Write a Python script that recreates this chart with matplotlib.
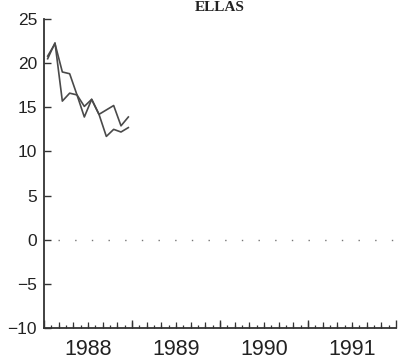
import matplotlib
matplotlib.use("Agg")
import matplotlib.pyplot as plt
import numpy as np

# data
title = "ELLAS"
months = np.arange(12)
x_dates = 1988 + (months + 0.5) / 12.0
series_a = [20.5, 22.3, 15.7, 16.6, 16.4, 13.9, 15.9, 14.2, 11.7, 12.5, 12.2, 12.7]
series_b = [20.8, 22.2, 19.0, 18.8, 16.4, 15.1, 15.9, 14.2, 14.7, 15.2, 12.9, 13.9]
year_ticks = [1988, 1989, 1990, 1991, 1992]
year_labels = ["1988", "1989", "1990", "1991"]
y_ticks = [-10, -5, 0, 5, 10, 15, 20, 25]

plt.rcParams['font.family'] = ['Liberation Sans', 'DejaVu Sans']

fig = plt.figure(figsize=(3.98, 3.6), dpi=100)
ax = fig.add_axes([44/398, 32/360, 352/398, 309/360])

col = "#4a4a4a"
ax.plot(x_dates, series_a, color=col, lw=1.2)
ax.plot(x_dates, series_b, color=col, lw=1.2)
ax.axhline(0, xmin=0.04, color="#777777", lw=1.0, linestyle=(0, (1, 11)))

ax.set_xlim(1988, 1992)
ax.set_ylim(-10, 25)

for s in ["top", "right"]:
    ax.spines[s].set_visible(False)
for s in ["left", "bottom"]:
    ax.spines[s].set_color("#333333")
    ax.spines[s].set_linewidth(1.3)

ax.set_yticks(y_ticks)
ax.set_yticklabels([str(v).replace("-", "\u2212") for v in y_ticks])
ax.tick_params(axis="y", direction="in", length=5, width=1.0, colors="#333333",
               labelsize=12.5, pad=5, labelcolor="#222222")

ax.set_xticks(year_ticks)
ax.set_xticklabels([""] * len(year_ticks))
ax.set_xticks(np.arange(1988, 1992, 1/12), minor=True)
ax.tick_params(axis="x", which="major", direction="in", length=6, width=1.0, colors="#333333")
ax.tick_params(axis="x", which="minor", direction="in", length=2.5, width=0.9, colors="#333333")

sec = ax.secondary_xaxis(0)
sec.set_xticks(np.arange(1988 + 2/12, 1992, 2/12))
sec.set_xticklabels([])
sec.tick_params(direction="in", length=4, width=0.9, colors="#333333")
sec.spines["bottom"].set_visible(False)

for i, lab in enumerate(year_labels):
    ax.text(year_ticks[i] + 0.5, -0.035, lab, transform=ax.get_xaxis_transform(),
            ha="center", va="top", fontsize=15.5, color="#222222")

fig.text(0.553, 0.978, title, ha="center", va="center", fontsize=11,
         fontweight="bold", family=["Liberation Serif", "DejaVu Serif"], color="#222222")

fig.savefig("out.png", dpi=100)
